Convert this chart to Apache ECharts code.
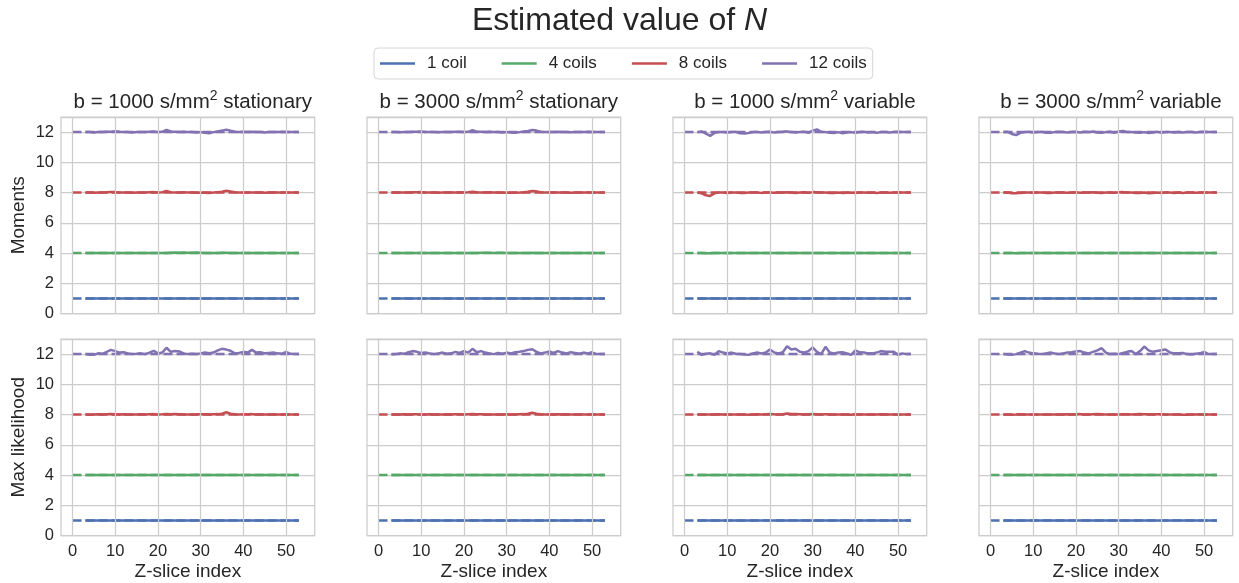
<!DOCTYPE html>
<html>
<head>
<meta charset="utf-8">
<script src="https://cdn.jsdelivr.net/npm/echarts@6/dist/echarts.min.js"></script>
<style>
html,body{margin:0;padding:0;background:#fff;}
#chart{width:1239px;height:583px;}
</style>
</head>
<body>
<div id="chart"></div>
<script>
// ---------------- data ----------------
const coilNames = ['1 coil', '4 coils', '8 coils', '12 coils'];
const trueValues = [1, 4, 8, 12];
const dashRange = [0, 53];
const xTicks = [0, 10, 20, 30, 40, 50];
const yTicks = [0, 2, 4, 6, 8, 10, 12];
const panelTitles = ['1000|stationary', '3000|stationary', '1000|variable', '3000|variable'];
const rowNames = ['Moments', 'Max likelihood'];
const slices = [3,4,5,6,7,8,9,10,11,12,13,14,15,16,17,18,19,20,21,22,23,24,25,26,27,28,29,30,31,32,33,34,35,36,37,38,39,40,41,42,43,44,45,46,47,48,49,50,51,52,53];

// Moments, b=1000 stationary
const momS1000_1 = [1.0,0.99,1.0,1.0,1.0,1.0,0.99,1.0,1.0,1.0, 1.0,1.0,0.99,1.0,1.0,1.0,1.0,1.0,0.99,1.0, 1.0,1.0,1.0,0.99,1.0,1.0,1.0,1.0,0.99,1.0, 1.0,1.0,1.0,1.0,0.99,1.0,1.0,1.0,1.0,0.99, 1.0,1.0,1.0,1.0,0.99,1.0,1.0,1.0,1.0,1.0,1.0];
const momS1000_4 = [4.0,4.0,4.0,4.0,4.01,4.0,4.0,4.0,4.0,4.0, 4.0,4.0,4.0,4.0,4.0,4.01,4.0,4.0,4.0,4.0, 4.02,4.03,4.02,4.03,4.02,4.02,4.03,4.02,4.01,4.0, 4.0,4.01,4.02,4.02,4.01,4.0,4.0,4.0,4.0,4.0, 4.0,4.0,4.0,4.0,4.0,4.0,4.0,4.0,4.0,4.0,4.0];
const momS1000_8 = [8.0,8.0,7.99,8.0,8.01,8.02,8.03,8.03,8.01,8.0, 8.0,7.99,8.0,8.0,8.01,8.02,8.03,8.0,8.02,8.1, 8.03,8.01,8.0,8.03,8.0,8.0,7.99,8.0,7.99,7.98, 8.0,8.03,8.06,8.12,8.08,8.02,8.0,8.01,8.0,8.01, 8.0,8.0,7.99,8.0,8.0,8.0,8.01,8.0,8.0,8.0,8.0];
const momS1000_12 = [12.0,12.0,11.98,12.0,12.0,12.02,12.03,12.05,12.02,12.0, 12.0,11.98,12.0,12.0,12.0,12.02,12.04,12.0,12.02,12.15, 12.04,12.02,12.0,12.03,12.0,12.0,11.98,12.0,11.96,11.92, 12.0,12.05,12.1,12.16,12.1,12.03,12.0,12.02,12.0,12.02, 12.0,12.0,11.98,12.0,12.0,12.0,12.02,12.0,12.0,12.0,12.0];

// Moments, b=3000 stationary
const momS3000_1 = [1.0,1.0,0.99,1.0,1.0,1.0,1.0,0.99,1.0,1.0, 1.0,0.99,1.0,1.0,1.0,1.0,0.99,1.0,1.0,1.0, 1.0,1.0,0.99,1.0,1.0,1.0,1.0,0.99,1.0,1.0, 1.0,1.0,1.0,0.99,1.0,1.0,1.0,1.0,1.0,1.0, 0.99,1.0,1.0,1.0,1.0,1.0,0.99,1.0,1.0,1.0,1.0];
const momS3000_4 = [4.0,4.0,4.0,4.01,4.0,4.0,4.0,4.0,4.0,4.0, 4.0,4.0,4.0,4.01,4.0,4.0,4.0,4.0,4.01,4.0, 4.01,4.02,4.02,4.02,4.01,4.02,4.02,4.01,4.01,4.0, 4.0,4.01,4.01,4.02,4.01,4.0,4.0,4.0,4.0,4.0, 4.0,4.0,4.0,4.0,4.0,4.0,4.0,4.0,4.0,4.0,4.0];
const momS3000_8 = [8.0,8.0,8.0,8.0,8.01,8.02,8.02,8.03,8.01,8.0, 8.0,7.99,8.0,8.0,8.01,8.01,8.02,8.0,8.02,8.06, 8.02,8.01,8.0,8.02,8.0,8.0,7.99,8.0,7.99,7.99, 8.0,8.02,8.05,8.1,8.08,8.02,8.0,8.01,8.0,8.01, 8.0,8.0,7.99,8.0,8.0,8.0,8.01,8.0,8.0,8.0,8.0];
const momS3000_12 = [12.0,12.0,11.99,12.0,12.01,12.02,12.03,12.04,12.01,12.0, 12.0,11.99,12.0,12.01,12.0,12.02,12.03,12.01,12.02,12.12, 12.03,12.02,12.0,12.02,12.0,12.01,11.98,12.0,11.97,11.95, 12.0,12.04,12.08,12.14,12.1,12.03,12.0,12.01,12.0,12.02, 12.0,12.0,11.99,12.0,12.0,12.01,12.02,12.0,12.0,12.0,12.0];

// Moments, b=1000 variable
const momV1000_1 = [1.0,1.0,0.99,0.99,1.0,1.0,1.0,1.0,1.0,1.0, 1.0,0.99,1.0,1.0,1.0,1.0,1.0,1.0,0.99,1.0, 1.0,1.0,1.0,1.0,0.99,1.0,1.0,1.0,1.0,1.0, 0.99,1.0,1.0,1.0,1.0,0.99,1.0,1.0,1.0,1.0, 1.0,1.0,0.99,1.0,1.0,1.0,1.0,1.0,1.0,1.0,1.0];
const momV1000_4 = [4.0,4.0,3.99,3.98,4.0,4.0,4.0,4.0,4.0,4.0, 4.0,4.0,4.0,4.0,4.0,4.0,4.0,4.01,4.0,4.0, 4.0,4.01,4.0,4.0,4.0,4.01,4.0,4.01,4.0,4.0, 4.0,4.0,4.0,4.0,4.0,4.0,4.0,4.0,4.0,4.0, 4.0,4.0,4.0,4.0,4.0,4.0,4.0,4.0,4.0,4.0,4.0];
const momV1000_8 = [8.0,7.95,7.82,7.78,7.95,8.0,8.0,7.98,8.0,8.01, 7.98,7.97,8.0,8.0,8.01,7.98,8.0,8.01,7.99,8.0, 8.01,8.02,8.0,7.98,8.0,8.02,7.98,8.03,8.02,8.0, 8.0,7.98,7.97,8.0,7.97,7.99,8.0,7.98,8.0,8.01, 7.99,8.0,7.98,8.0,8.0,7.99,8.0,8.01,8.0,8.0,8.0];
const momV1000_12 = [12.0,12.05,11.9,11.75,11.95,12.0,12.0,11.98,12.0,12.02, 11.92,11.9,11.94,12.0,12.0,11.97,12.0,12.02,11.98,12.0, 12.02,12.05,12.0,11.97,12.0,12.03,11.95,12.1,12.18,12.02, 12.0,11.96,11.94,12.0,11.92,11.98,12.0,11.95,12.0,12.02, 11.98,12.0,11.96,12.0,12.0,11.98,12.0,12.02,12.0,12.0,12.0];

// Moments, b=3000 variable
const momV3000_1 = [1.0,1.0,1.0,0.99,1.0,1.0,1.0,1.0,0.99,1.0, 1.0,1.0,1.0,1.0,0.99,1.0,1.0,1.0,1.0,1.0, 1.0,0.99,1.0,1.0,1.0,1.0,1.0,1.0,0.99,1.0, 1.0,1.0,1.0,1.0,1.0,1.0,0.99,1.0,1.0,1.0, 1.0,1.0,1.0,0.99,1.0,1.0,1.0,1.0,1.0,1.0,1.0];
const momV3000_4 = [4.0,4.0,4.0,3.99,4.0,4.0,4.0,4.0,4.0,4.0, 4.0,4.0,4.0,4.0,4.01,4.0,4.0,4.0,4.0,4.0, 4.0,4.0,4.01,4.0,4.0,4.0,4.0,4.01,4.0,4.0, 4.0,4.0,4.0,4.0,4.0,4.0,4.0,4.0,4.0,4.0, 4.0,4.0,4.0,4.0,4.0,4.0,4.0,4.0,4.0,4.0,4.0];
const momV3000_8 = [8.0,8.0,7.96,7.95,7.98,8.0,8.01,7.99,8.0,8.01, 7.98,7.98,8.0,8.01,8.0,7.99,8.0,8.02,7.99,8.0, 8.0,8.02,7.99,7.97,8.0,8.01,7.98,8.02,8.03,8.0, 8.0,7.98,7.97,8.0,7.96,7.98,8.0,7.98,8.0,8.0, 7.98,8.0,7.98,8.0,8.0,7.99,8.0,8.01,8.0,8.0,8.0];
const momV3000_12 = [12.0,12.02,11.88,11.8,11.95,12.0,12.02,11.98,12.0,12.02, 11.95,11.96,12.0,12.02,12.0,11.97,12.0,12.03,11.98,12.02, 12.0,12.04,11.97,11.95,12.0,12.02,11.96,12.04,12.08,12.0, 12.0,11.97,11.96,12.0,11.94,11.98,12.02,11.96,12.0,12.0, 11.97,12.0,11.97,12.0,12.0,11.98,12.0,12.02,12.0,12.0,12.0];

// Max likelihood, b=1000 stationary
const mlS1000_1 = [1.0,1.0,1.0,1.0,1.0,1.0,1.0,1.0,1.0,1.0, 1.0,1.0,1.0,1.0,1.0,1.0,1.0,1.0,1.0,1.0, 1.0,1.0,1.0,1.0,1.0,1.0,1.0,1.0,1.0,1.0, 1.0,1.0,1.0,1.0,1.0,1.0,1.0,1.0,1.0,1.0, 1.0,1.0,1.0,1.0,1.0,1.0,1.0,1.0,1.0,1.0,1.0];
const mlS1000_4 = [4.0,4.0,4.0,4.0,4.0,4.01,4.0,4.0,4.0,4.0, 4.0,4.0,4.0,4.0,4.0,4.0,4.0,4.01,4.0,4.0, 4.0,4.01,4.0,4.0,4.0,4.0,4.02,4.01,4.0,4.0, 4.0,4.0,4.0,4.01,4.0,4.0,4.0,4.0,4.0,4.0, 4.0,4.0,4.0,4.0,4.0,4.0,4.0,4.0,4.0,4.0,4.0];
const mlS1000_8 = [8.0,7.99,8.0,8.02,8.01,8.02,8.03,8.02,8.01,8.02, 8.0,8.0,8.01,8.02,8.0,8.02,8.03,8.01,8.02,8.04, 8.02,8.03,8.02,8.0,8.0,8.01,8.0,8.02,8.02,8.01, 8.02,8.03,8.06,8.15,8.06,8.02,8.01,8.02,8.02,8.03, 8.01,8.02,8.0,8.01,8.02,8.0,8.01,8.02,8.0,8.0,8.0];
const mlS1000_12 = [12.0,11.95,11.96,12.05,12.02,12.15,12.28,12.2,12.1,12.12, 12.05,12.0,12.02,12.05,12.0,12.1,12.22,12.05,12.1,12.42, 12.15,12.2,12.18,12.05,12.0,12.02,12.0,12.05,12.1,12.06, 12.1,12.25,12.35,12.3,12.22,12.05,12.08,12.15,12.1,12.28, 12.1,12.12,12.05,12.08,12.1,12.05,12.02,12.15,12.02,12.0,12.0];

// Max likelihood, b=3000 stationary
const mlS3000_1 = [1.0,1.0,1.0,1.0,1.0,1.0,1.0,1.0,1.0,1.0, 1.0,1.0,1.0,1.0,1.0,1.0,1.0,1.0,1.0,1.0, 1.0,1.0,1.0,1.0,1.0,1.0,1.0,1.0,1.0,1.0, 1.0,1.0,1.0,1.0,1.0,1.0,1.0,1.0,1.0,1.0, 1.0,1.0,1.0,1.0,1.0,1.0,1.0,1.0,1.0,1.0,1.0];
const mlS3000_4 = [4.0,4.0,4.0,4.0,4.01,4.0,4.0,4.0,4.0,4.0, 4.0,4.0,4.0,4.0,4.0,4.01,4.0,4.0,4.0,4.0, 4.0,4.0,4.01,4.0,4.0,4.0,4.01,4.0,4.0,4.0, 4.0,4.0,4.01,4.0,4.0,4.0,4.0,4.0,4.0,4.0, 4.0,4.0,4.0,4.0,4.0,4.0,4.0,4.0,4.0,4.0,4.0];
const mlS3000_8 = [8.0,8.0,8.01,8.02,8.01,8.02,8.02,8.01,8.01,8.02, 8.0,8.01,8.01,8.02,8.0,8.02,8.02,8.01,8.02,8.03, 8.02,8.02,8.01,8.0,8.0,8.01,8.0,8.02,8.01,8.01, 8.02,8.03,8.05,8.12,8.06,8.02,8.01,8.02,8.01,8.02, 8.01,8.02,8.0,8.01,8.01,8.0,8.01,8.02,8.0,8.0,8.0];
const mlS3000_12 = [11.97,12.0,12.05,12.02,12.12,12.2,12.15,12.08,12.1,12.05, 12.0,12.05,12.1,12.02,12.05,12.15,12.08,12.2,12.1,12.35, 12.12,12.2,12.1,12.05,12.0,12.08,12.02,12.1,12.05,12.12, 12.15,12.2,12.28,12.32,12.15,12.05,12.1,12.18,12.08,12.2, 12.1,12.05,12.12,12.08,12.02,12.1,12.05,12.12,12.0,12.0,12.0];

// Max likelihood, b=1000 variable
const mlV1000_1 = [1.0,1.0,1.0,1.0,1.0,1.0,1.0,1.0,1.0,1.0, 1.0,1.0,1.0,1.0,1.0,1.0,1.0,1.0,1.0,1.0, 1.0,1.0,1.0,1.0,1.0,1.0,1.0,1.0,1.0,1.0, 1.0,1.0,1.0,1.0,1.0,1.0,1.0,1.0,1.0,1.0, 1.0,1.0,1.0,1.0,1.0,1.0,1.0,1.0,1.0,1.0,1.0];
const mlV1000_4 = [4.0,4.0,4.0,4.0,4.0,4.0,4.01,4.0,4.0,4.0, 4.0,4.0,4.0,4.0,4.0,4.0,4.0,4.0,4.0,4.01, 4.0,4.0,4.0,4.0,4.01,4.0,4.0,4.0,4.0,4.0, 4.0,4.0,4.0,4.0,4.0,4.01,4.0,4.0,4.0,4.0, 4.0,4.0,4.0,4.0,4.0,4.0,4.0,4.0,4.0,4.0,4.0];
const mlV1000_8 = [8.01,8.0,8.0,8.01,8.0,8.02,8.01,8.0,8.01,8.0, 8.0,8.0,7.99,8.01,8.02,8.01,8.02,8.04,8.02,8.01, 8.02,8.07,8.04,8.03,8.02,8.01,8.02,8.04,8.02,8.0, 8.03,8.01,8.0,8.01,8.01,8.0,7.99,8.02,8.01,8.01, 8.0,8.0,8.01,8.02,8.01,8.01,8.01,7.99,8.0,8.0,8.0];
const mlV1000_12 = [12.15,11.95,12.02,12.05,11.95,12.2,12.1,12.05,12.1,12.02, 12.0,11.98,11.95,12.05,12.1,12.05,12.1,12.3,12.1,12.05, 12.12,12.52,12.3,12.35,12.15,12.1,12.2,12.45,12.15,12.0, 12.48,12.1,12.05,12.1,12.12,12.05,11.95,12.25,12.12,12.1, 12.05,12.05,12.1,12.2,12.15,12.15,12.15,11.95,12.05,12.0,12.0];

// Max likelihood, b=3000 variable
const mlV3000_1 = [1.0,1.0,1.0,1.0,1.0,1.0,1.0,1.0,1.0,1.0, 1.0,1.0,1.0,1.0,1.0,1.0,1.0,1.0,1.0,1.0, 1.0,1.0,1.0,1.0,1.0,1.0,1.0,1.0,1.0,1.0, 1.0,1.0,1.0,1.0,1.0,1.0,1.0,1.0,1.0,1.0, 1.0,1.0,1.0,1.0,1.0,1.0,1.0,1.0,1.0,1.0,1.0];
const mlV3000_4 = [4.0,4.0,4.0,4.0,4.0,4.0,4.0,4.01,4.0,4.0, 4.0,4.0,4.0,4.0,4.0,4.0,4.01,4.0,4.0,4.0, 4.0,4.0,4.0,4.01,4.0,4.0,4.0,4.0,4.0,4.0, 4.0,4.0,4.0,4.0,4.01,4.0,4.0,4.0,4.0,4.0, 4.0,4.0,4.0,4.0,4.0,4.0,4.0,4.0,4.0,4.0,4.0];
const mlV3000_8 = [8.0,8.0,7.99,8.0,8.02,8.01,8.01,8.0,8.0,8.01, 8.0,8.01,8.0,8.0,8.01,8.02,8.01,8.02,8.03,8.01, 8.01,8.02,8.03,8.02,8.01,8.0,8.0,8.01,8.02,8.02, 8.01,8.02,8.03,8.02,8.02,8.01,8.02,8.02,8.01,8.0, 8.0,8.01,7.99,7.99,8.0,8.01,8.02,8.0,8.0,8.0,8.0];
const mlV3000_12 = [12.0,11.98,11.95,12.0,12.1,12.2,12.1,12.05,12.02,12.0, 12.05,12.1,12.05,12.0,12.05,12.1,12.12,12.18,12.2,12.1, 12.05,12.15,12.25,12.4,12.1,12.0,12.02,12.0,12.08,12.15, 12.2,12.0,12.2,12.5,12.25,12.15,12.2,12.25,12.3,12.1, 12.05,12.05,12.08,12.0,11.98,12.02,12.05,12.15,12.0,12.0,12.0];

const panels = [
  [momS1000_1, momS1000_4, momS1000_8, momS1000_12],
  [momS3000_1, momS3000_4, momS3000_8, momS3000_12],
  [momV1000_1, momV1000_4, momV1000_8, momV1000_12],
  [momV3000_1, momV3000_4, momV3000_8, momV3000_12],
  [mlS1000_1, mlS1000_4, mlS1000_8, mlS1000_12],
  [mlS3000_1, mlS3000_4, mlS3000_8, mlS3000_12],
  [mlV1000_1, mlV1000_4, mlV1000_8, mlV1000_12],
  [mlV3000_1, mlV3000_4, mlV3000_8, mlV3000_12]
];

// ---------------- styling / layout ----------------
const colors = ['#4C72B0', '#55A868', '#C44E52', '#8172B2'];
const FONT = '"Liberation Sans", Arial, sans-serif';
const TXT = '#262626';
const GRIDC = '#cccccc';
const colLeft = [61, 367, 673, 979];
const gridW = 253.7;
const rowTop = [117, 339];
const gridH = 196.5;

const chart = echarts.init(document.getElementById('chart'), null, {renderer: 'canvas'});

const grids = [], xAxes = [], yAxes = [], series = [];
const titles = [{
  text: 'Estimated value of {i|N}',
  left: 'center', top: 0,
  textStyle: {fontFamily: FONT, fontSize: 32, fontWeight: 'normal', color: TXT,
    rich: {i: {fontFamily: FONT, fontSize: 32, fontStyle: 'italic', fontWeight: 'normal', color: TXT}}}
}];

for (let p = 0; p < 8; p++) {
  const r = Math.floor(p / 4), c = p % 4;
  grids.push({left: colLeft[c], top: rowTop[r], width: gridW, height: gridH,
    show: true, borderColor: GRIDC, borderWidth: 1.25, backgroundColor: 'transparent', containLabel: false});
  xAxes.push({
    type: 'value', gridIndex: p, min: -2.7, max: 56.7,
    axisLine: {show: false}, axisTick: {show: false}, splitLine: {show: false},
    axisLabel: {show: r === 1, customValues: xTicks, fontFamily: FONT, fontSize: 16.5, color: TXT, margin: 7},
    name: r === 1 ? 'Z-slice index' : '', nameLocation: 'middle', nameGap: 27,
    nameTextStyle: {fontFamily: FONT, fontSize: 19, color: TXT}
  });
  yAxes.push({
    type: 'value', gridIndex: p, min: 0, max: 13, interval: 2,
    axisLine: {show: false}, axisTick: {show: false},
    splitLine: {show: true, lineStyle: {color: GRIDC, width: 1.25}},
    axisLabel: {show: c === 0, showMaxLabel: false, fontFamily: FONT, fontSize: 16.5, color: TXT, margin: 7,
      formatter: v => (yTicks.indexOf(v) >= 0 ? String(v) : '')},
    name: c === 0 ? rowNames[r] : '', nameLocation: 'middle', nameGap: 33, nameRotate: 90,
    nameTextStyle: {fontFamily: FONT, fontSize: 19, color: TXT}
  });
  if (r === 0) {
    const parts = panelTitles[c].split('|');
    titles.push({
      text: '{a|b = ' + parts[0] + ' s/mm}{s|2}{a| ' + parts[1] + '}',
      left: colLeft[c] + gridW / 2, textAlign: 'center', top: 84,
      textStyle: {fontWeight: 'normal', rich: {
        a: {fontFamily: FONT, fontSize: 20.5, fontWeight: 'normal', color: TXT, lineHeight: 24, verticalAlign: 'bottom'},
        s: {fontFamily: FONT, fontSize: 14, fontWeight: 'normal', color: TXT, lineHeight: 14, verticalAlign: 'top'}
      }}
    });
  }
  // vertical grid lines
  series.push({
    type: 'line', xAxisIndex: p, yAxisIndex: p, data: [[-10, -10]], showSymbol: false, silent: true,
    lineStyle: {opacity: 0}, z: 1,
    markLine: {silent: true, symbol: ['none', 'none'], label: {show: false},
      lineStyle: {color: GRIDC, width: 1.25, type: 'solid'},
      data: xTicks.map(v => ({xAxis: v}))}
  });
  // dashed true-value lines
  for (let k = 0; k < 4; k++) {
    series.push({
      type: 'line', name: 'true ' + coilNames[k], xAxisIndex: p, yAxisIndex: p,
      data: [[dashRange[0], trueValues[k]], [dashRange[1], trueValues[k]]],
      showSymbol: false, symbol: 'none', silent: true, z: 2,
      lineStyle: {color: colors[k], width: 2.5, type: [9, 4]}
    });
  }
  // estimates
  for (let k = 0; k < 4; k++) {
    series.push({
      type: 'line', name: coilNames[k], xAxisIndex: p, yAxisIndex: p,
      data: slices.map((x, i) => [x, panels[p][k][i]]),
      showSymbol: false, symbol: 'none', z: 3, color: colors[k],
      lineStyle: {color: colors[k], width: 2.5}
    });
  }
}

chart.setOption({
  animation: false,
  backgroundColor: '#ffffff',
  title: titles,
  legend: {
    data: coilNames.map(n => ({name: n, icon: 'rect'})), left: 374, top: 48, orient: 'horizontal',
    itemWidth: 35, itemHeight: 2.4, itemGap: 35, padding: [7, 6],
    borderColor: '#d6d6d6', borderWidth: 1, borderRadius: 4,
    textStyle: {fontFamily: FONT, fontSize: 17, color: TXT, padding: [0, 0, 0, 7], lineHeight: 16}
  },
  grid: grids, xAxis: xAxes, yAxis: yAxes, series: series
});
</script>
</body>
</html>
